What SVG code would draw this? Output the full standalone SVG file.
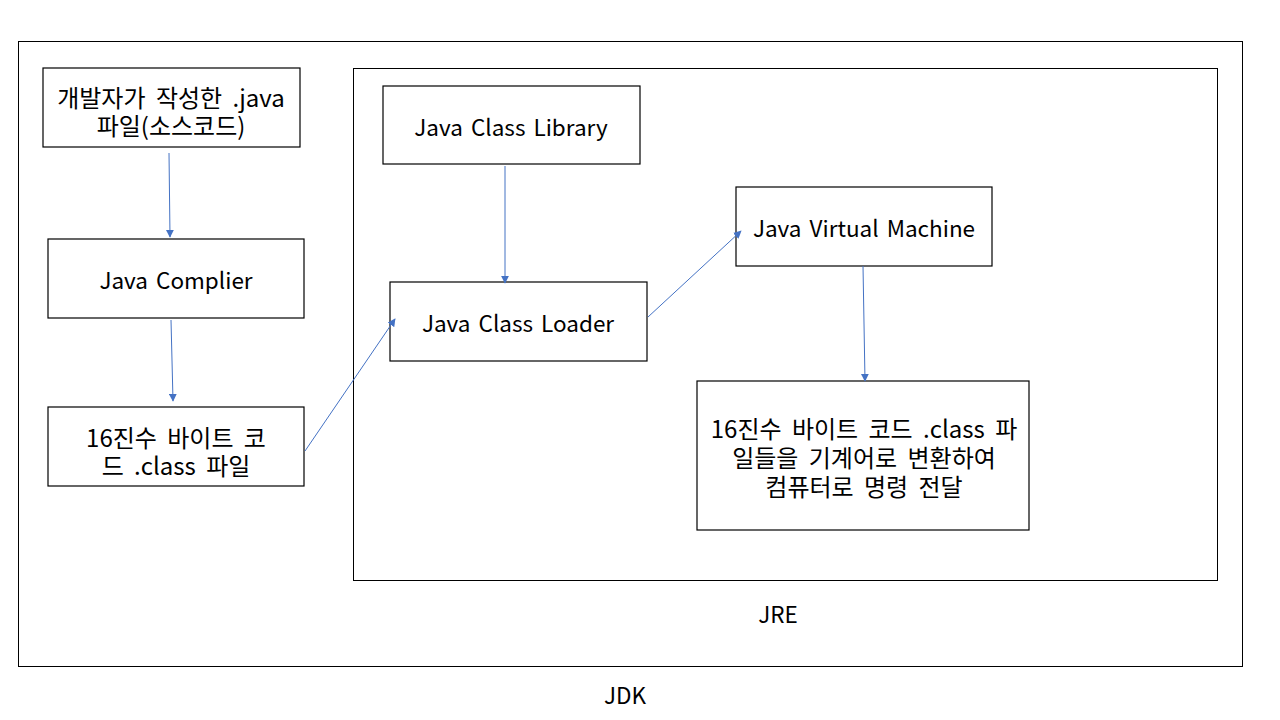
<svg xmlns="http://www.w3.org/2000/svg" width="1280" height="720" viewBox="0 0 1280 720">
<style>
.frame{fill:none;stroke:#000;stroke-width:1}
.box{fill:#fff;stroke:#000;stroke-width:1.2}
.t{font-family:"Noto Sans CJK KR","Noto Sans",sans-serif;font-size:22.5px;word-spacing:3px;fill:#000;text-anchor:middle;dominant-baseline:central}
.k{font-size:24px;word-spacing:5px}
.c{stroke:#4472C4;stroke-width:1;fill:none;marker-end:url(#ah)}
</style>
<defs>
<marker id="ah" viewBox="0 0 10 10" refX="9" refY="5" markerWidth="8" markerHeight="8" markerUnits="userSpaceOnUse" orient="auto">
<path d="M0,0 L10,5 L0,10 z" fill="#4472C4"/>
</marker>
</defs>
<rect width="1280" height="720" fill="#fff"/>
<g id="jdk">
<rect class="frame" x="18.5" y="41.5" width="1224" height="625"/>
<text class="t" x="625" y="694">JDK</text>
</g>
<g id="jre">
<rect class="frame" x="353.5" y="68.5" width="864" height="512"/>
<text class="t" x="778" y="613">JRE</text>
</g>
<g id="source">
<rect class="box" x="43" y="68" width="257" height="79"/>
<text class="t k" x="171" y="96">개발자가 작성한 .java</text>
<text class="t k" x="171" y="124">파일(소스코드)</text>
</g>
<g id="compiler">
<rect class="box" x="48" y="239" width="256" height="79"/>
<text class="t" x="176" y="279">Java Complier</text>
</g>
<g id="bytecode">
<rect class="box" x="48" y="407" width="256" height="79"/>
<text class="t k" x="176" y="436">16진수 바이트 코</text>
<text class="t k" x="176" y="464">드 .class 파일</text>
</g>
<g id="library">
<rect class="box" x="383" y="86" width="257" height="78"/>
<text class="t" x="511" y="126">Java Class Library</text>
</g>
<g id="loader">
<rect class="box" x="390" y="282" width="257" height="79"/>
<text class="t" x="518" y="322">Java Class Loader</text>
</g>
<g id="jvm">
<rect class="box" x="736" y="187" width="256" height="79"/>
<text class="t" x="864" y="227">Java Virtual Machine</text>
</g>
<g id="machine">
<rect class="box" x="697" y="381" width="332" height="149"/>
<text class="t k" x="864" y="427">16진수 바이트 코드 .class 파</text>
<text class="t k" x="864" y="456">일들을 기계어로 변환하여</text>
<text class="t k" x="864" y="485">컴퓨터로 명령 전달</text>
</g>
<g id="connectors">
<line class="c" x1="169" y1="153" x2="170" y2="237"/>
<line class="c" x1="171" y1="320" x2="173" y2="401"/>
<line class="c" x1="305" y1="451" x2="395" y2="319"/>
<line class="c" x1="505" y1="166" x2="505" y2="283"/>
<line class="c" x1="648" y1="317" x2="741" y2="231"/>
<line class="c" x1="863" y1="266" x2="865" y2="381"/>
</g>
</svg>
